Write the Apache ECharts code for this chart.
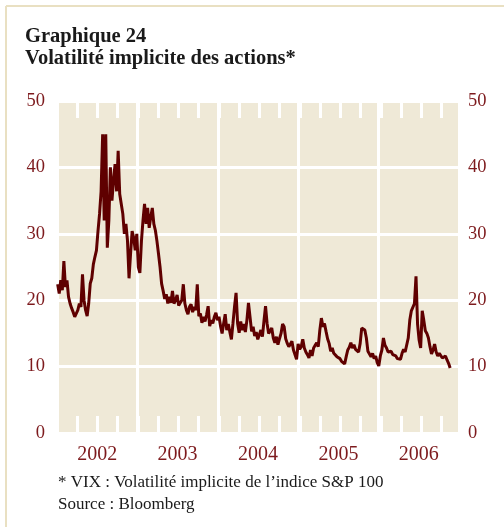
<!DOCTYPE html>
<html>
<head>
<meta charset="utf-8">
<script src="https://cdn.jsdelivr.net/npm/echarts@6/dist/echarts.min.js"></script>
<style>
  html, body { margin: 0; padding: 0; background: #fff; }
  #chart { width: 504px; height: 527px; }
</style>
</head>
<body>
<div id="chart"></div>
<script>
// weekly readings of the VIX, first week ending 2002-01-04
var firstWeek = "2002-01-04";
var years = ["2002", "2003", "2004", "2005", "2006"];
var yTicks = [0, 10, 20, 30, 40, 50];

var vix2002 = [22.4, 21, 23, 21.5, 25.9, 22, 23, 20.5, 19.5, 18.8, 18.2, 17.5, 17.3, 18.5, 19.5, 19, 23.9, 20, 18.5, 17.6,
  19.5, 22.5, 23.3, 25.4, 26.5, 27.5, 30.4, 33, 36.4, 45, 32, 45, 27.9, 32, 40, 35, 38, 40.5, 36.4, 42.5,
  36, 34.5, 33, 30, 31.5, 29, 23.3, 27, 30.4, 29.4, 27.5, 30];
var vix2003 = [25, 24.1, 28.9, 32, 34.5, 31.5, 33.9, 30.9, 32.5, 33.9, 31.5, 30.5, 28.9, 27, 25, 22.5, 21.4, 20.2, 20.9, 19.5,
  20.5, 19.6, 21.4, 19.5, 20, 20.8, 19.2, 19.4, 20, 22.4, 19.5, 18.5, 17.9, 19, 19.4, 18.2, 19, 18.5, 22.4, 17.6,
  18, 16.6, 17.5, 16.8, 17.8, 19.1, 16.1, 17, 16.5, 17.5, 18.1, 17];
var vix2004 = [17.5, 16.1, 15, 16.5, 17.9, 15.5, 16.4, 15.2, 14.1, 16.5, 19, 21.1, 16.5, 15.1, 16.8, 15.5, 16.4, 15.2, 17, 19.6,
  17.5, 15.3, 16, 14.6, 15.2, 14.1, 14.8, 15.5, 14.5, 16.9, 19.1, 16.5, 15, 14.9, 15.8, 14.3, 13.6, 14.5, 13.3, 14.2,
  15, 16.4, 16, 14.2, 13.5, 13, 12.8, 13.8, 12.5, 12.2, 11.1, 13.4];
var vix2005 = [12.6, 13, 14.1, 12.8, 12.2, 11.8, 11.3, 12.5, 11.6, 12.8, 13.2, 13.6, 13, 15.5, 17.3, 16, 16.5, 15.3, 14.2, 13.5,
  12.3, 12.8, 12, 11.9, 11.5, 11.8, 11.2, 10.8, 10.6, 10.4, 11.5, 12.5, 12.9, 13.6, 12.8, 13.3, 12.6, 12.9, 12.2, 13.5,
  15.8, 16.1, 15.5, 14.3, 12.3, 11.9, 11.5, 12, 11.2, 11.6, 10.6, 10.1];
var vix2006 = [11.6, 12.5, 14.3, 13.2, 12.8, 12.2, 11.9, 12.3, 11.8, 12, 11.6, 11.2, 11.5, 11.1, 12, 12.6, 12.2, 12.5, 14.3, 17,
  18.4, 18.1, 19.5, 23.6, 16.4, 14, 12.8, 18.4, 17, 15.4, 15, 14.3, 13, 11.9, 12.5, 13.4, 12.2, 11.6, 12, 11.8,
  11.3, 11.5, 11.6, 11, 10.5, 9.8];

var vix = vix2002.concat(vix2003, vix2004, vix2005, vix2006);

// x is counted in days since 2002-01-01
var dayMs = 24 * 3600 * 1000;
var origin = Date.UTC(2002, 0, 1);
var day0 = (new Date(firstWeek + "T00:00:00Z").getTime() - origin) / dayMs;
var seriesData = vix.map(function(v, i) {
  return [day0 + 7 * i, v];
});
var xMaxDay = (Date.UTC(2006, 11, 20) - origin) / dayMs;
var quarterDays = 365.25 / 4;

var red = "#7d1a1d";
var beige = "#efe9d7";
var serif = "Liberation Serif, DejaVu Serif, serif";

var chart = echarts.init(document.getElementById("chart"));

var tickAxis = function(pos) {
  return {
    type: "value",
    gridIndex: 0,
    position: pos,
    min: 0,
    max: xMaxDay,
    interval: quarterDays,
    axisLine: { show: false, onZero: false },
    axisLabel: { show: false },
    axisTick: { show: true, inside: true, length: 17, lineStyle: { color: "#fff", width: 3 } },
    splitLine: { show: false }
  };
};

chart.setOption({
  backgroundColor: "#fff",
  animation: false,
  title: [
    {
      text: "Graphique 24\nVolatilité implicite des actions*",
      left: 20,
      top: 21,
      textStyle: { fontFamily: serif, fontWeight: "bold", fontSize: 20.5, lineHeight: 22, color: "#1a1a1a" }
    },
    {
      text: "* VIX : Volatilité implicite de l’indice S&P 100\nSource : Bloomberg",
      left: 53,
      top: 467,
      textStyle: { fontFamily: serif, fontWeight: "normal", fontSize: 17, lineHeight: 22, color: "#1a1a1a" }
    }
  ],
  grid: [
    { left: 57, right: 45, top: 101, bottom: 94, show: true, backgroundColor: beige, borderWidth: 0 },
    { left: 57, right: 45, top: 101, bottom: 94, show: false }
  ],
  xAxis: [
    tickAxis("bottom"),
    tickAxis("top"),
    {
      type: "category",
      gridIndex: 1,
      position: "bottom",
      data: years,
      boundaryGap: true,
      axisLine: { show: false, onZero: false },
      axisTick: { show: false },
      splitLine: { show: true, interval: 0, lineStyle: { color: "#fff", width: 3 } },
      axisLabel: { color: red, fontFamily: serif, fontSize: 20, margin: 12 }
    }
  ],
  yAxis: [
    {
      type: "value",
      gridIndex: 0,
      position: "left",
      min: yTicks[0],
      max: yTicks[yTicks.length - 1],
      interval: 10,
      axisLine: { show: false },
      axisTick: { show: false },
      axisLabel: { color: red, fontFamily: serif, fontSize: 18.5, margin: 12 },
      splitLine: { show: true, lineStyle: { color: "#fff", width: 3 } }
    },
    {
      type: "value",
      gridIndex: 0,
      position: "right",
      min: yTicks[0],
      max: yTicks[yTicks.length - 1],
      interval: 10,
      axisLine: { show: false },
      axisTick: { show: false },
      axisLabel: { color: red, fontFamily: serif, fontSize: 18.5, margin: 9 },
      splitLine: { show: false }
    },
    { type: "value", gridIndex: 1, show: false, min: 0, max: 50 }
  ],
  graphic: [
    { type: "line", shape: { x1: 6, y1: 6, x2: 504, y2: 6 }, style: { stroke: "#e9e0c2", lineWidth: 2 } },
    { type: "line", shape: { x1: 6, y1: 6, x2: 6, y2: 527 }, style: { stroke: "#e9e0c2", lineWidth: 2 } }
  ],
  series: [
    {
      type: "line",
      xAxisIndex: 0,
      yAxisIndex: 0,
      data: seriesData,
      showSymbol: false,
      lineStyle: { color: "#5f0000", width: 3 },
      z: 5
    }
  ]
});
</script>
</body>
</html>
